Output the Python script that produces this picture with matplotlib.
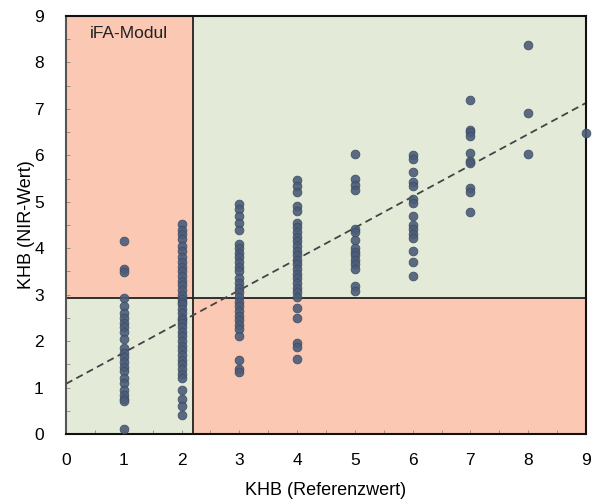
import numpy as np
import matplotlib
matplotlib.use('Agg')
import matplotlib.pyplot as plt
from matplotlib.ticker import MultipleLocator

plt.rcParams['font.family'] = ['Liberation Sans', 'DejaVu Sans']

# NIR values per reference value
nir_1 = [4.15, 3.55, 3.48, 2.93, 2.75, 2.6, 2.5, 2.4, 2.3, 2.2, 2.05, 1.85,
         1.75, 1.65, 1.55, 1.45, 1.35, 1.2, 1.1, 0.95, 0.85, 0.75, 0.7, 0.1]
nir_2 = [4.52, 4.4, 4.3, 4.2, 4.05, 3.95, 3.8, 3.7, 3.6, 3.5, 3.4, 3.3, 3.2,
         3.1, 3.0, 2.9, 2.85, 2.8, 2.7, 2.6, 2.5, 2.45, 2.4, 2.3, 2.2, 2.1,
         2.0, 1.9, 1.8, 1.7, 1.6, 1.5, 1.4, 1.3, 1.2, 0.95, 0.75, 0.6, 0.4]
nir_3 = [4.95, 4.85, 4.7, 4.55, 4.4, 4.1, 4.0, 3.9, 3.8, 3.7, 3.6, 3.5,
         3.35, 3.25, 3.15, 3.05, 2.95, 2.85, 2.75, 2.65, 2.55, 2.45, 2.35,
         2.25, 2.1, 1.6, 1.4, 1.33]
nir_4 = [5.47, 5.35, 5.2, 4.9, 4.8, 4.55, 4.45, 4.35, 4.25, 4.15, 4.05, 3.95,
         3.85, 3.75, 3.65, 3.55, 3.45, 3.35, 3.25, 3.15, 3.05, 2.95, 2.72,
         2.5, 1.95, 1.88, 1.62]
nir_5 = [6.03, 5.5, 5.37, 5.25, 4.42, 4.35, 4.18, 4.0, 3.92, 3.85, 3.75,
         3.65, 3.55, 3.18, 3.08]
nir_6 = [6.0, 5.93, 5.65, 5.42, 5.35, 5.05, 4.98, 4.7, 4.5, 4.42, 4.3, 4.22,
         3.95, 3.7, 3.4]
nir_7 = [7.2, 6.55, 6.5, 6.42, 6.05, 5.88, 5.83, 5.3, 5.22, 4.79]
nir_8 = [8.38, 6.91, 6.03]
nir_9 = [6.49]

groups = [nir_1, nir_2, nir_3, nir_4, nir_5, nir_6, nir_7, nir_8, nir_9]
ref_values = [1, 2, 3, 4, 5, 6, 7, 8, 9]

x_thresh = 2.2
y_thresh = 2.93
fit_intercept = 1.08
fit_slope = 0.672

pink = '#FBC8B4'
green = '#E3EBD8'

fig = plt.figure(figsize=(6.01, 5.04), dpi=100)
ax = fig.add_axes([0.1098, 0.1389, 0.8652, 0.8294])
ax.set_xlim(0, 9)
ax.set_ylim(0, 9)

# background quadrants
ax.axvspan(0, x_thresh, ymin=y_thresh / 9, ymax=1, color=pink, lw=0, zorder=0)
ax.axvspan(x_thresh, 9, ymin=0, ymax=y_thresh / 9, color=pink, lw=0, zorder=0)
ax.axvspan(0, x_thresh, ymin=0, ymax=y_thresh / 9, color=green, lw=0, zorder=0)
ax.axvspan(x_thresh, 9, ymin=y_thresh / 9, ymax=1, color=green, lw=0, zorder=0)
ax.axvline(x_thresh, color='#222222', lw=1.3, zorder=1)
ax.axhline(y_thresh, color='#222222', lw=1.3, zorder=1)

# regression line
xs = np.array([0, 9])
ax.plot(xs, fit_intercept + fit_slope * xs, ls=(0, (4, 2.5)), color='#444444',
        lw=1.3, zorder=2)

for xv, ys in zip(ref_values, groups):
    ax.plot([xv] * len(ys), ys, 'o', ms=6.3, color='#4B5C78',
            mec='#3D4C66', mew=0.6, alpha=0.9, zorder=3, clip_on=False)

ax.text(1.09, 8.62, 'iFA-Modul', ha='center', va='center', fontsize=12.5,
        color='#222222')

ax.xaxis.set_major_locator(MultipleLocator(1))
ax.yaxis.set_major_locator(MultipleLocator(1))
ax.xaxis.set_minor_locator(MultipleLocator(0.5))
ax.yaxis.set_minor_locator(MultipleLocator(0.5))
ax.tick_params(which='both', direction='in', length=3, width=0.6,
               color='#888888', labelsize=12.5)
ax.tick_params(axis='x', pad=14)
ax.tick_params(axis='y', pad=16)

for s in ax.spines.values():
    s.set_linewidth(1.5)
    s.set_color('#111111')
ax.spines['left'].set_color('#555555')

ax.set_xlabel('KHB (Referenzwert)', fontsize=13, labelpad=10)
ax.set_ylabel('KHB (NIR-Wert)', fontsize=13, labelpad=-1)

fig.savefig('out.png', dpi=100)
